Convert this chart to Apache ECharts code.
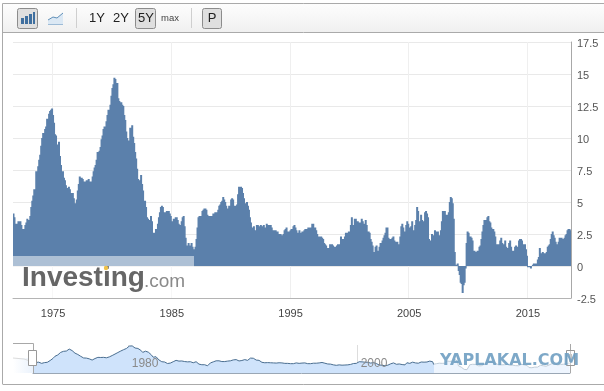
<!DOCTYPE html>
<html><head><meta charset="utf-8">
<style>html,body{margin:0;padding:0;background:#fff}#c{width:604px;height:391px}</style>
<script src="https://cdn.jsdelivr.net/npm/echarts@6/dist/echarts.min.js"></script>
</head><body><div id="c"></div>
<script>
const startYear = 1971, startMonth = 9;
const tickYears = ['1975','1985','1995','2005','2015'];
const navigatorYears = ['1980','2000'];
const yTicks = [-2.5,0,2.5,5,7.5,10,12.5,15,17.5];
const values1970s = [4.1,3.8,3.3,3.3,
3.3,3.5,3.5,3.5,3.2,2.7,2.9,2.9,3.2,3.4,3.7,3.4,
3.6,3.9,4.6,5.1,5.5,6.0,5.7,7.4,7.4,7.8,8.3,8.7,
9.4,10.0,10.4,10.1,10.7,10.9,11.5,10.9,11.9,12.1,12.2,12.3,
11.8,11.2,10.3,10.2,9.5,9.4,9.7,8.6,7.9,7.4,7.4,6.9,
6.7,6.3,6.1,6.0,6.2,6.0,5.4,5.7,5.7,5.3,4.9,4.9,
5.2,5.9,6.4,7.0,6.7,6.9,6.8,6.6,6.6,6.4,6.7,6.7,
6.8,6.4,6.6,6.5,7.0,7.4,7.7,7.9,8.3,8.9,8.9,9.0,
9.3,9.9,10.2,10.7,10.9,10.9,11.3,11.8,12.2,12.1,12.6,13.3];
const values1980s = [13.9,14.2,14.7,14.6,14.3,14.3,13.1,12.9,12.6,12.8,12.6,12.5,
11.8,11.4,10.5,10.0,9.8,9.6,10.8,10.8,11.0,10.1,9.6,8.9,
8.4,7.6,6.8,6.5,6.7,7.1,6.4,5.9,5.0,5.1,4.6,3.8,
3.7,3.5,3.6,3.9,3.5,2.6,2.5,2.6,2.9,2.9,3.3,3.8,
4.2,4.6,4.7,4.6,4.2,4.2,4.2,4.3,4.3,4.3,4.1,3.9,
3.5,3.5,3.7,3.7,3.8,3.8,3.6,3.3,3.1,3.2,3.5,3.8,
3.9,3.1,2.2,1.6,1.5,1.8,1.6,1.6,1.8,1.5,1.3,1.1,
1.5,2.1,3.0,3.8,3.9,3.7,3.9,4.3,4.4,4.5,4.5,4.4,
4.0,3.9,3.9,3.9,3.9,3.9,4.1,4.0,4.2,4.2,4.2,4.4,
4.7,4.8,5.0,5.1,5.4,5.2,5.0,4.7,4.3,4.5,4.7,4.6];
const values1990s = [5.2,5.3,5.2,4.7,4.4,4.7,4.8,5.6,6.2,6.2,6.2,6.1,
5.7,5.3,4.9,4.9,5.0,4.7,4.4,3.8,3.4,2.9,3.0,3.1,
2.6,2.8,3.2,3.2,3.0,3.1,3.2,3.1,3.0,3.2,3.0,2.9,
3.3,3.2,3.1,3.2,3.2,3.0,2.8,2.8,2.7,2.8,2.7,2.7,
2.5,2.5,2.5,2.4,2.3,2.5,2.8,2.9,3.0,2.6,2.7,2.7,
2.8,2.9,2.9,3.1,3.2,3.0,2.8,2.6,2.5,2.8,2.6,2.5,
2.7,2.7,2.8,2.9,2.9,2.8,3.0,2.9,3.0,3.0,3.3,3.3,
3.0,3.0,2.8,2.5,2.2,2.3,2.2,2.3,2.2,2.1,1.8,1.7,
1.6,1.4,1.4,1.4,1.7,1.7,1.7,1.6,1.5,1.5,1.5,1.6,
1.7,1.6,1.7,2.3,2.1,2.0,2.1,2.3,2.6,2.6,2.6,2.7];
const values2000s = [2.7,3.2,3.8,3.1,3.2,3.7,3.7,3.4,3.5,3.4,3.4,3.4,
3.7,3.5,2.9,3.3,3.6,3.2,2.7,2.7,2.6,2.1,1.9,1.6,
1.1,1.1,1.5,1.6,1.2,1.1,1.5,1.8,1.5,2.0,2.2,2.4,
2.6,3.0,3.0,2.2,2.1,2.1,2.1,2.2,2.3,2.0,1.8,1.9,
1.9,1.7,1.7,2.3,3.1,3.3,3.0,2.7,2.5,3.2,3.5,3.3,
3.0,3.0,3.1,3.5,2.8,2.5,3.2,3.6,4.6,4.3,3.5,3.4,
4.0,3.6,3.4,3.5,4.2,4.3,4.1,3.8,2.1,1.3,2.0,2.5,
2.1,2.4,2.8,2.6,2.7,2.7,2.4,2.0,2.8,3.5,4.3,4.1,
4.3,4.0,4.0,3.9,4.2,5.0,5.4,5.3,4.9,3.7,1.1,0.1,
0.0,0.2,-0.4,-0.7,-1.3,-1.4,-2.1,-1.5,-1.3,-0.2,1.8,2.7];
const values2010s = [2.6,2.1,2.3,2.2,2.0,1.1,1.2,1.1,1.1,1.2,1.1,1.5,
1.6,2.1,2.7,3.2,3.6,3.6,3.6,3.8,3.9,3.5,3.4,3.0,
2.9,2.9,2.7,2.3,1.7,1.7,1.4,1.7,2.0,2.2,1.8,1.7,
1.6,2.0,1.5,1.1,1.4,1.8,2.0,1.5,1.2,1.0,1.2,1.5,
1.6,1.1,1.5,2.0,2.1,2.1,2.0,1.7,1.7,1.7,1.3,0.8,
-0.1,0.0,-0.1,-0.2,0.0,0.1,0.2,0.2,0.0,0.2,0.5,0.7,
1.4,1.0,0.9,1.1,1.0,1.0,0.8,1.1,1.5,1.6,1.7,2.1,
2.5,2.7,2.4,2.2,1.9,1.6,1.7,1.9,2.2,2.0,2.2,2.1,
2.1,2.2,2.4,2.5,2.8,2.9,2.9,2.8];

const values = [...values1970s,...values1980s,...values1990s,...values2000s,...values2010s];
const months = values.map((_,i)=>{
  const m = startMonth-1+i;
  return (startYear+Math.floor(m/12))+'-'+String(m%12+1).padStart(2,'0');
});
const isYearStart = (list)=>(i,v)=>v.endsWith('-01') && list.includes(v.slice(0,4));

const chart = echarts.init(document.getElementById('c'),null,{renderer:'canvas'});
const FONT='"Liberation Sans",Arial,sans-serif';
const txt=(x,y,t,size,color,extra)=>({type:'text',x,y,silent:true,z:20,style:Object.assign({text:t,font:size+'px '+FONT,fill:color,textAlign:'center',textVerticalAlign:'middle'},extra||{})});
const ln=(x1,y1,x2,y2,c,w)=>({type:'line',silent:true,z:15,shape:{x1,y1,x2,y2},style:{stroke:c||'#aaa',lineWidth:w||1}});
const btn=(x,y,w,h)=>({type:'rect',silent:true,z:16,shape:{x,y,width:w,height:h,r:2},style:{fill:'#dfdfdf',stroke:'#8c8c8c',lineWidth:1}});
const bar=(x,y,w,h)=>({type:'rect',silent:true,z:18,shape:{x,y,width:w,height:h},style:{fill:'#3f6f9f'}});

chart.setOption({
  animation:false,
  backgroundColor:'#fff',
  grid:[
    {left:13,right:33,top:42,height:256,containLabel:false},
    {left:33,right:34,top:345,height:28}
  ],
  xAxis:[
    {type:'category',gridIndex:0,data:months,boundaryGap:true,
     axisLine:{show:true,onZero:false,lineStyle:{color:'#b4b4b4'}},axisTick:{show:false},
     axisLabel:{interval:isYearStart(tickYears),formatter:v=>v.slice(0,4),color:'#444',fontSize:11,fontFamily:FONT,margin:10},
     splitLine:{show:true,interval:isYearStart(tickYears),lineStyle:{color:'#efefef'}}},
    {type:'category',gridIndex:1,data:months,boundaryGap:false,position:'bottom',
     axisLine:{show:true,onZero:false,lineStyle:{color:'#9aa7b5'}},axisTick:{show:false},axisLabel:{show:false},
     splitLine:{show:true,interval:isYearStart(navigatorYears),lineStyle:{color:'#dddddd'}}},
    {type:'category',gridIndex:1,data:months,boundaryGap:false,position:'bottom',z:5,
     axisLine:{show:false,onZero:false},axisTick:{show:false},splitLine:{show:false},
     axisLabel:{inside:true,align:'left',interval:isYearStart(navigatorYears),formatter:v=>'\u00a0'+v.slice(0,4),color:'#8a8a8a',fontSize:12,fontFamily:FONT,margin:3}}
  ],
  yAxis:[
    {type:'value',gridIndex:0,position:'right',min:-2.5,max:17.5,interval:2.5,
     axisLine:{show:true,lineStyle:{color:'#a8a8a8'}},axisTick:{show:false},
     axisLabel:{margin:6,formatter:v=>yTicks.includes(v)?'{t|'+v+'}':'',
       rich:{t:{color:'#555',fontSize:11,fontFamily:FONT,padding:[4,0,0,0]}}},
     splitLine:{lineStyle:{color:'#e9e9e9'}}},
    {type:'value',gridIndex:1,min:-3.7,max:14.9,show:false}
  ],
  series:[
    {type:'bar',xAxisIndex:0,yAxisIndex:0,data:values,barWidth:2,large:true,largeThreshold:50,
     itemStyle:{color:'#5b80ab'},silent:true},
    {type:'line',xAxisIndex:1,yAxisIndex:1,data:values,showSymbol:false,silent:true,
     lineStyle:{color:'#4a6e90',width:1},areaStyle:{color:'#cfe3fb',origin:'start',opacity:1}}
  ],
  graphic:[
    {type:'rect',silent:true,z:1,shape:{x:3,y:4,width:601,height:28},
     style:{fill:new echarts.graphic.LinearGradient(0,0,0,1,[{offset:0,color:'#fdfdfd'},{offset:1,color:'#f0f0f0'}])}},
    ln(2.5,3.5,2.5,384),ln(2.5,3.5,604,3.5),ln(3,32.5,604,32.5),ln(2.5,384.5,604,384.5),
    ln(76.5,8,76.5,28,'#cfcfcf'),ln(191.5,8,191.5,28,'#cfcfcf'),
    btn(17.5,8.5,20,20),bar(21,18,3,6),bar(25,16,3,8),bar(29,14,3,10),bar(33,12,2,12),
    {type:'polygon',silent:true,z:18,shape:{points:[[48,24],[48,20],[53,17],[57,18],[63,13],[63,24]]},style:{fill:'#dbe8f4'}},
    {type:'polyline',silent:true,z:19,shape:{points:[[48,20],[53,17],[57,18],[63,13]]},style:{stroke:'#5f8fb8',fill:null,lineWidth:1}},
    {type:'line',silent:true,z:19,shape:{x1:48,y1:24.5,x2:63,y2:24.5},style:{stroke:'#9dbbd6',lineWidth:1}},
    txt(97,18,'1Y',13,'#222'),txt(121,18,'2Y',13,'#222'),
    btn(135.5,8.5,20,20),txt(146,18,'5Y',13,'#222'),
    txt(170,18,'max',9.5,'#444'),
    btn(202.5,8.5,19,20),txt(212,18,'P',13,'#222'),
    {type:'rect',silent:true,z:10,shape:{x:13,y:256,width:181,height:42},style:{fill:'rgba(255,255,255,0.5)'}},
    {type:'text',silent:true,z:11,x:22,y:278,style:{text:'Investing',font:'bold 28px '+FONT,fill:'#666',textVerticalAlign:'middle'}},
    {type:'text',silent:true,z:11,x:144,y:282,style:{text:'.com',font:'19px '+FONT,fill:'#8a8a8a',textVerticalAlign:'middle'}},
    {type:'circle',silent:true,z:12,shape:{cx:106,cy:268,r:2.2},style:{fill:'#efc24a'}},
    {type:'rect',silent:true,z:2,shape:{x:13,y:358,width:20,height:15},
     style:{fill:new echarts.graphic.LinearGradient(0,0,1,0,[{offset:0,color:'#ffffff'},{offset:1,color:'#eaf2fc'}])}},
    {type:'polyline',silent:true,z:3,shape:{points:[[13,358],[24,359],[33,362]]},style:{stroke:'#dcdcdc',fill:null,lineWidth:1}},
    ln(13,343.5,33.5,343.5,'#a8a8a8'),ln(33.5,343.5,33.5,373,'#a8a8a8'),
    ln(570.5,344,570.5,373,'#a8a8a8'),
    {type:'rect',silent:true,z:9,shape:{x:434,y:346,width:137,height:27},style:{fill:'rgba(255,255,255,0.65)'}},
    {type:'rect',silent:true,z:17,shape:{x:28.5,y:350.5,width:8,height:15},style:{fill:'#fff',stroke:'#999',lineWidth:1}},
    ln(31.5,354,31.5,362,'#999'),ln(33.5,354,33.5,362,'#999'),
    {type:'rect',silent:true,z:17,shape:{x:566.5,y:350.5,width:8,height:15},style:{fill:'rgba(255,255,255,0.4)',stroke:'#999',lineWidth:1}},
    ln(569.5,354,569.5,362,'#999'),ln(571.5,354,571.5,362,'#999'),
    {type:'text',silent:true,z:30,x:440,y:361,style:{text:'YAPLAKAL.COM',font:'bold 16px "DejaVu Sans"',fill:'#6f9fc2',opacity:0.9,textVerticalAlign:'middle',shadowColor:'rgba(60,90,120,0.6)',shadowBlur:1,shadowOffsetX:1,shadowOffsetY:1}}
  ]
});
</script></body></html>
